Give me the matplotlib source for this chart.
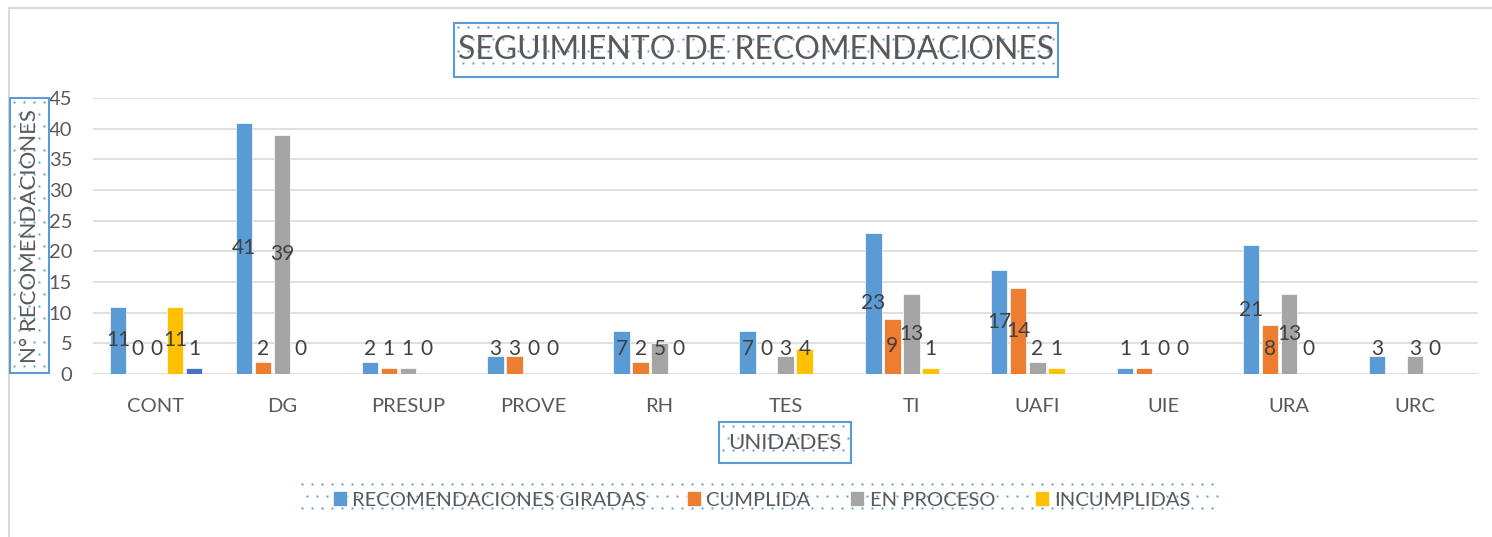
import numpy as np
import matplotlib
matplotlib.use('Agg')
from matplotlib import pyplot as plt
from matplotlib.patches import Rectangle
from matplotlib.lines import Line2D

plt.rcParams['font.family'] = ['Lato', 'DejaVu Sans']

unidades = ['CONT', 'DG', 'PRESUP', 'PROVE', 'RH', 'TES', 'TI', 'UAFI', 'UIE', 'URA', 'URC']
giradas = [11, 41, 2, 3, 7, 7, 23, 17, 1, 21, 3]
cumplida = [0, 2, 1, 3, 2, 0, 9, 14, 1, 8, None]
en_proceso = [0, 39, 1, 0, 5, 3, 13, 2, 0, 13, 3]
incumplidas = [11, 0, 0, 0, 0, 4, 1, 1, 0, 0, 0]
extra = [1, None, None, None, None, None, None, None, None, None, None]  # series not in legend

series = [giradas, cumplida, en_proceso, incumplidas, extra]
names = ['RECOMENDACIONES GIRADAS', 'CUMPLIDA', 'EN PROCESO', 'INCUMPLIDAS', None]
colors = ['#5B9BD5', '#ED7D31', '#A5A5A5', '#FFC000', '#4472C4']

W, H = 1492, 537
fig = plt.figure(figsize=(W / 100, H / 100), dpi=100)
ax = fig.add_axes([93 / W, 1 - 374 / H, (1478 - 93) / W, (374 - 98) / H])

x = np.arange(len(unidades))
pitch = 0.151
bw = 0.13
handles = []
for k, (vals, name, c) in enumerate(zip(series, names, colors)):
    v = np.array([np.nan if a is None else a for a in vals], dtype=float)
    xs = x + (k - 2) * pitch
    b = ax.bar(xs, np.nan_to_num(v), bw, color=c, edgecolor='white', linewidth=0.5, zorder=3)
    if name:
        handles.append((b, name))
    for xi, vi in zip(xs, v):
        if np.isnan(vi):
            continue
        ax.text(xi, max(vi / 2, 4.0), '%d' % vi, ha='center', va='center',
                fontsize=15, color='#404040', zorder=5)

ax.set_xlim(-0.5, len(unidades) - 0.5)
ax.set_ylim(0, 45)
ax.set_yticks(np.arange(0, 46, 5))
ax.set_xticks(x)
ax.set_xticklabels(unidades)
ax.grid(axis='y', color='#D9D9D9', linewidth=1.2, zorder=0)
for s in ax.spines.values():
    s.set_visible(False)
ax.tick_params(length=0, labelsize=14.5, labelcolor='#595959')
ax.tick_params(axis='y', pad=15)
ax.tick_params(axis='x', pad=17)


def box(x0, y0, x1, y1, border=True):
    # white box with small blue dot pattern, like the excel pattern fill
    fig.add_artist(Rectangle((x0 / W, 1 - y1 / H), (x1 - x0) / W, (y1 - y0) / H,
                             transform=fig.transFigure, facecolor='white',
                             edgecolor='#5B9BD5' if border else 'none',
                             linewidth=1.5, zorder=1))
    px, py = [], []
    for i, yy in enumerate(np.arange(y0 + 4, y1 - 2, 12)):
        for xx in np.arange(x0 + 4 + (i % 2) * 5, x1 - 2, 10):
            px.append(xx / W)
            py.append(1 - yy / H)
    fig.add_artist(Line2D(px, py, ls='none', marker='s', ms=1.4, mfc='#5B9BD5', mec='none',
                          transform=fig.transFigure, zorder=2))


# outer chart border
fig.add_artist(Rectangle((8.5 / W, -0.1), 1.2, 1 - 7.5 / H + 0.1, transform=fig.transFigure,
                         fill=False, edgecolor='#D9D9D9', linewidth=1.5))

box(454, 23, 1058, 77)
fig.text(756 / W, 1 - 50 / H, 'SEGUIMIENTO DE RECOMENDACIONES', ha='center', va='center',
         fontsize=23, color='#595959', zorder=3)

box(10, 98, 49, 373)
fig.text(30 / W, 1 - 236 / H, 'N° RECOMENDACIONES', rotation=90, ha='center', va='center',
         fontsize=16, color='#595959', zorder=3)

box(719, 422, 851, 463)
fig.text(785 / W, 1 - 443 / H, 'UNIDADES', ha='center', va='center',
         fontsize=16, color='#595959', zorder=3)

box(298, 480, 1222, 522, border=False)
leg = fig.legend([h for h, n in handles], [n for h, n in handles], loc='center',
                 bbox_to_anchor=(762 / W, 1 - 500 / H), ncol=4, frameon=False,
                 fontsize=14.5, handlelength=0.7, handleheight=0.7, handletextpad=0.25,
                 columnspacing=2.0)
for t in leg.get_texts():
    t.set_color('#595959')
leg.set_zorder(4)

fig.savefig('out.png', dpi=100)
